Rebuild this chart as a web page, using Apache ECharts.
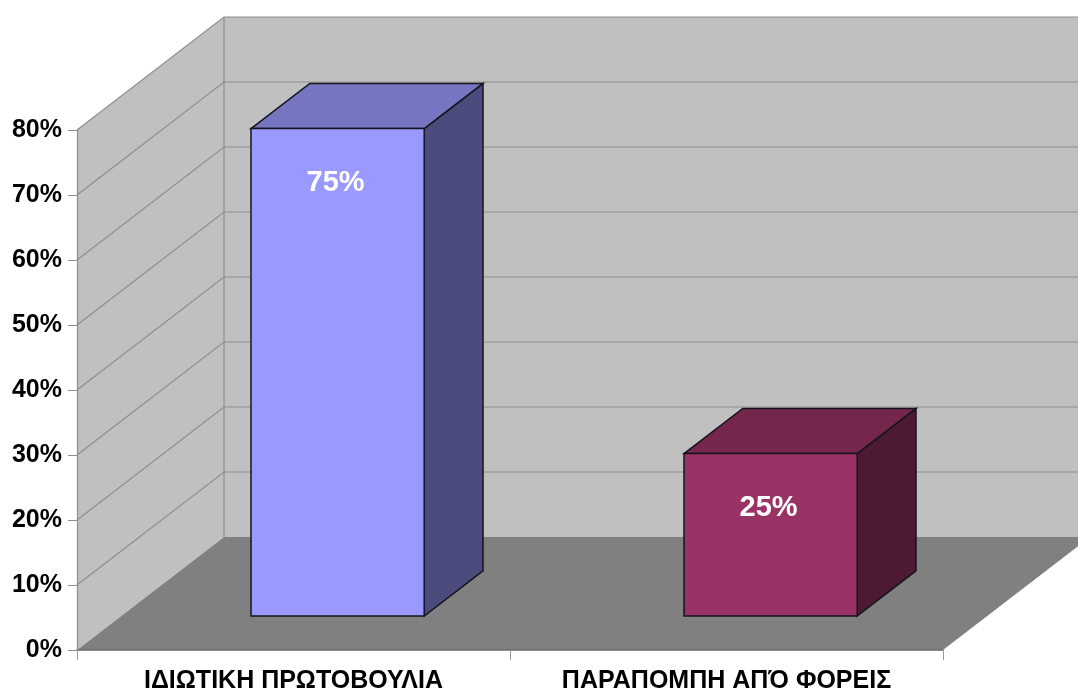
<!DOCTYPE html>
<html>
<head>
<meta charset="utf-8">
<script src="https://cdn.jsdelivr.net/npm/echarts@6/dist/echarts.min.js"></script>
<style>
html,body{margin:0;padding:0;background:#fff;}
#chart{width:1078px;height:691px;}
</style>
</head>
<body>
<div id="chart"></div>
<script>
// ---- data ----
const categories = ['ΙΔΙΩΤΙΚΗ ΠΡΩΤΟΒΟΥΛΙΑ', 'ΠΑΡΑΠΟΜΠΗ ΑΠΌ ΦΟΡΕΙΣ'];
const values = [75, 25];
const valueLabels = ['75%', '25%'];
const yTicks = [0, 10, 20, 30, 40, 50, 60, 70, 80];

// ---- style ----
const DEPTH_X = 147, DEPTH_Y = -113;
const faceColors = [
  { front: '#9999ff', top: '#7575c2', side: '#4b4b7d' },
  { front: '#993366', top: '#74264d', side: '#4c1a33' }
];
const FONT = '"Liberation Sans", Arial, sans-serif';

const chart = echarts.init(document.getElementById('chart'));

function renderWalls(params, api) {
  const cs = params.coordSys;
  const x0 = cs.x, x1 = cs.x + cs.width;
  const yTop = api.coord([0, yTicks[yTicks.length - 1]])[1];
  const yBot = api.coord([0, yTicks[0]])[1];
  const children = [];
  children.push({ type: 'polygon', shape: { points: [[x0, yTop], [x0 + DEPTH_X, yTop + DEPTH_Y], [x0 + DEPTH_X, yBot + DEPTH_Y], [x0, yBot]] },
    style: { fill: '#c0c0c0', stroke: null } });
  children.push({ type: 'rect', shape: { x: x0 + DEPTH_X, y: yTop + DEPTH_Y, width: x1 - x0 + 10, height: yBot - yTop },
    style: { fill: '#c0c0c0', stroke: null } });
  children.push({ type: 'polygon', shape: { points: [[x0, yBot], [x1, yBot], [x1 + DEPTH_X, yBot + DEPTH_Y], [x0 + DEPTH_X, yBot + DEPTH_Y]] },
    style: { fill: '#808080', stroke: null } });
  yTicks.forEach(function (v) {
    if (v === 0) return;
    const y = api.coord([0, v])[1];
    children.push({ type: 'polyline', shape: { points: [[x0, y], [x0 + DEPTH_X, y + DEPTH_Y], [x1 + DEPTH_X + 10, y + DEPTH_Y]] },
      style: { stroke: '#8e8e8e', lineWidth: 1.2, fill: null } });
  });
  children.push({ type: 'line', shape: { x1: x0 + DEPTH_X, y1: yTop + DEPTH_Y, x2: x0 + DEPTH_X, y2: yBot + DEPTH_Y },
    style: { stroke: '#8e8e8e', lineWidth: 1.2 } });
  return { type: 'group', children: children };
}

function renderBar(params, api) {
  const idx = api.value(0);
  const v = api.value(1);
  const base = api.coord([idx, 0]);
  const top = api.coord([idx, v]);
  const band = api.size([1, 0])[0];
  const w = band * 0.4;
  const fx = DEPTH_X * 0.3, fy = DEPTH_Y * 0.3;
  const bx = DEPTH_X * 0.4, by = DEPTH_Y * 0.4;
  const L = base[0] - w / 2 + fx, R = L + w;
  const B = base[1] + fy, T = top[1] + fy;
  const c = faceColors[params.dataIndex];
  const st = '#14141f';
  return {
    type: 'group',
    children: [
      { type: 'polygon', shape: { points: [[R, T], [R + bx, T + by], [R + bx, B + by], [R, B]] },
        style: { fill: c.side, stroke: st, lineWidth: 1.5 } },
      { type: 'polygon', shape: { points: [[L, T], [L + bx, T + by], [R + bx, T + by], [R, T]] },
        style: { fill: c.top, stroke: st, lineWidth: 1.5 } },
      { type: 'rect', shape: { x: L, y: T, width: w, height: B - T },
        style: { fill: c.front, stroke: st, lineWidth: 1.5 } },
      { type: 'text', x: (L + R) / 2 - 2, y: T + 54,
        style: { text: valueLabels[params.dataIndex], fill: '#ffffff', font: 'bold 29px ' + FONT, align: 'center', verticalAlign: 'middle' } }
    ]
  };
}

chart.setOption({
  animation: false,
  grid: { left: 77, right: 135, top: 130, bottom: 41, containLabel: false, outerBoundsMode: 'none' },
  xAxis: {
    type: 'category',
    data: categories,
    z: 10,
    axisLine: { show: true, lineStyle: { color: '#6a6a6a', width: 1.5 } },
    axisTick: { show: true, length: 10, lineStyle: { color: '#9a9a9a' } },
    axisLabel: { interval: 0, color: '#000', fontWeight: 'bold', fontSize: 25, fontFamily: FONT, margin: 19, hideOverlap: false }
  },
  yAxis: {
    type: 'value',
    min: 0, max: 80, interval: 10,
    z: 10,
    axisLine: { show: true, lineStyle: { color: '#8e8e8e', width: 1.2 } },
    axisTick: { show: true, length: 9, lineStyle: { color: '#8e8e8e' } },
    splitLine: { show: false },
    axisLabel: { formatter: '{value}%', color: '#000', fontWeight: 'bold', fontSize: 25, fontFamily: FONT, margin: 15 }
  },
  series: [
    { type: 'custom', z: 1, renderItem: renderWalls, data: [[0, 0]], silent: true },
    { type: 'custom', z: 3, renderItem: renderBar, data: values.map(function (v, i) { return [i, v]; }) }
  ]
});
</script>
</body>
</html>
